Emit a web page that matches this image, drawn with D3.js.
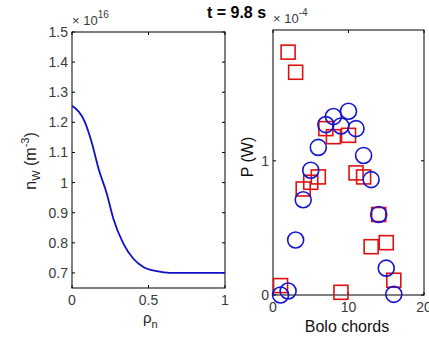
<!DOCTYPE html>
<html>
<head>
<meta charset="utf-8">
<script src="https://cdn.jsdelivr.net/npm/d3@7"></script>
<style>
  body { margin: 0; background: #fff; }
  text { font-family: "Liberation Sans", Arial, sans-serif; }
</style>
</head>
<body>
<script>
// ------------------------------- data -------------------------------
// left panel: density profile (x 1e16 m^-3)
var rho = [0, 0.085, 0.128, 0.176, 0.227, 0.27, 0.335, 0.40, 0.466, 0.553, 0.64, 0.8, 1.0];
var nW  = [1.255, 1.20, 1.135, 1.042, 0.964, 0.881, 0.798, 0.748, 0.720, 0.706, 0.700, 0.700, 0.700];
var leftXTicks = [0, 0.5, 1];
var leftYTicks = [0.7, 0.8, 0.9, 1.0, 1.1, 1.2, 1.3, 1.4, 1.5];

// right panel: bolometer chords (x 1e-4 W)
var chords   = [1, 2, 3, 4, 5, 6, 7, 8, 9, 10, 11, 12, 13, 14, 15, 16];
var measured = [0.07, 1.81, 1.66, 0.79, 0.84, 0.88, 1.24, 1.18, 0.02, 1.19, 0.91, 0.88, 0.36, 0.60, 0.39, 0.11];
var modelled = [0.00, 0.03, 0.41, 0.71, 0.93, 1.10, 1.27, 1.33, 1.26, 1.37, 1.24, 1.04, 0.86, 0.60, 0.20, 0.005];
var rightXTicks = [0, 10, 20];
var rightYTicks = [0, 1];

// ------------------------------- svg -------------------------------
var width = 429, height = 337;
var svg = d3.select("body").append("svg")
    .attr("width", width)
    .attr("height", height);

var tickColor = "#3a3a3a";

function drawBox(x, y, xTicks, yTicks, fmtX, fmtY) {
    var g = svg.append("g");
    var x0 = x.range()[0], x1 = x.range()[1];
    var y0 = y.range()[0], y1 = y.range()[1];
    g.append("rect")
        .attr("x", x0).attr("y", y1)
        .attr("width", x1 - x0).attr("height", y0 - y1)
        .attr("fill", "none").attr("stroke", "#000").attr("stroke-width", 1);
    // inward ticks on all four sides
    xTicks.forEach(function(t) {
        var px = x(t);
        g.append("line").attr("x1", px).attr("x2", px).attr("y1", y0).attr("y2", y0 - 3).attr("stroke", "#000");
        g.append("line").attr("x1", px).attr("x2", px).attr("y1", y1).attr("y2", y1 + 3).attr("stroke", "#000");
        g.append("text")
            .attr("x", px).attr("y", y0 + 17)
            .attr("text-anchor", "middle")
            .attr("font-size", 14).attr("fill", tickColor)
            .text(fmtX(t));
    });
    yTicks.forEach(function(t) {
        var py = y(t);
        g.append("line").attr("x1", x0).attr("x2", x0 + 3).attr("y1", py).attr("y2", py).attr("stroke", "#000");
        g.append("line").attr("x1", x1).attr("x2", x1 - 3).attr("y1", py).attr("y2", py).attr("stroke", "#000");
        g.append("text")
            .attr("x", x0 - 4).attr("y", py + 5)
            .attr("text-anchor", "end")
            .attr("font-size", 14).attr("fill", tickColor)
            .text(fmtY(t));
    });
    return g;
}

function fmt(d) { return String(+d.toFixed(2)); }

// ------------------------------- left panel -------------------------------
var xL = d3.scaleLinear().domain([0, 1]).range([72, 225]);
var yL = d3.scaleLinear().domain([0.65, 1.5]).range([288, 32]);

drawBox(xL, yL, leftXTicks, leftYTicks, fmt, fmt);

svg.append("path")
    .datum(rho.map(function(r, i) { return [r, nW[i]]; }))
    .attr("fill", "none")
    .attr("stroke", "#1010c8")
    .attr("stroke-width", 1.8)
    .attr("d", d3.line()
        .x(function(d) { return xL(d[0]); })
        .y(function(d) { return yL(d[1]); })
        .curve(d3.curveMonotoneX));

// exponent label
var expL = svg.append("text").attr("x", 72).attr("y", 25).attr("font-size", 13).attr("fill", tickColor);
expL.append("tspan").text("\u00d7 10");
expL.append("tspan").attr("dy", -7).attr("font-size", 10).text("16");

// y label
var ylab = svg.append("text")
    .attr("transform", "translate(36,161) rotate(-90)")
    .attr("text-anchor", "middle")
    .attr("font-size", 16).attr("fill", "#222");
ylab.append("tspan").text("n");
ylab.append("tspan").attr("dy", 4).attr("font-size", 11).text("W");
ylab.append("tspan").attr("dy", -4).text(" (m");
ylab.append("tspan").attr("dy", -7).attr("font-size", 11).text("-3");
ylab.append("tspan").attr("dy", 7).text(")");

// x label
var xlab = svg.append("text")
    .attr("x", 143).attr("y", 323)
    .attr("font-size", 15).attr("fill", "#222");
xlab.append("tspan").text("\u03c1");
xlab.append("tspan").attr("dy", 5).attr("font-size", 11).text("n");

// ------------------------------- right panel -------------------------------
var xR = d3.scaleLinear().domain([0, 20]).range([273, 424]);
var yR = d3.scaleLinear().domain([0, 1.975]).range([295, 30]);

drawBox(xR, yR, rightXTicks, rightYTicks, fmt, fmt);

var sq = 14;
svg.append("g").selectAll("rect")
    .data(chords.map(function(c, i) { return [c, measured[i]]; }))
    .enter().append("rect")
        .attr("x", function(d) { return xR(d[0]) - sq / 2; })
        .attr("y", function(d) { return yR(d[1]) - sq / 2; })
        .attr("width", sq).attr("height", sq)
        .attr("fill", "none")
        .attr("stroke", "#e01010")
        .attr("stroke-width", 1.6);

svg.append("g").selectAll("circle")
    .data(chords.map(function(c, i) { return [c, modelled[i]]; }))
    .enter().append("circle")
        .attr("cx", function(d) { return xR(d[0]); })
        .attr("cy", function(d) { return yR(d[1]); })
        .attr("r", 8)
        .attr("fill", "none")
        .attr("stroke", "#1515d0")
        .attr("stroke-width", 1.6);

var expR = svg.append("text").attr("x", 273).attr("y", 23).attr("font-size", 13).attr("fill", tickColor);
expR.append("tspan").text("\u00d7 10");
expR.append("tspan").attr("dy", -7).attr("font-size", 10).text("-4");

svg.append("text")
    .attr("transform", "translate(253,157) rotate(-90)")
    .attr("text-anchor", "middle")
    .attr("font-size", 16).attr("fill", "#111")
    .text("P (W)");

svg.append("text")
    .attr("x", 347).attr("y", 332)
    .attr("text-anchor", "middle")
    .attr("font-size", 16).attr("fill", "#111")
    .text("Bolo chords");

// title
svg.append("text")
    .attr("x", 236.5).attr("y", 18)
    .attr("text-anchor", "middle")
    .attr("font-size", 16).attr("font-weight", "bold").attr("fill", "#000")
    .text("t = 9.8 s");
</script>
</body>
</html>
